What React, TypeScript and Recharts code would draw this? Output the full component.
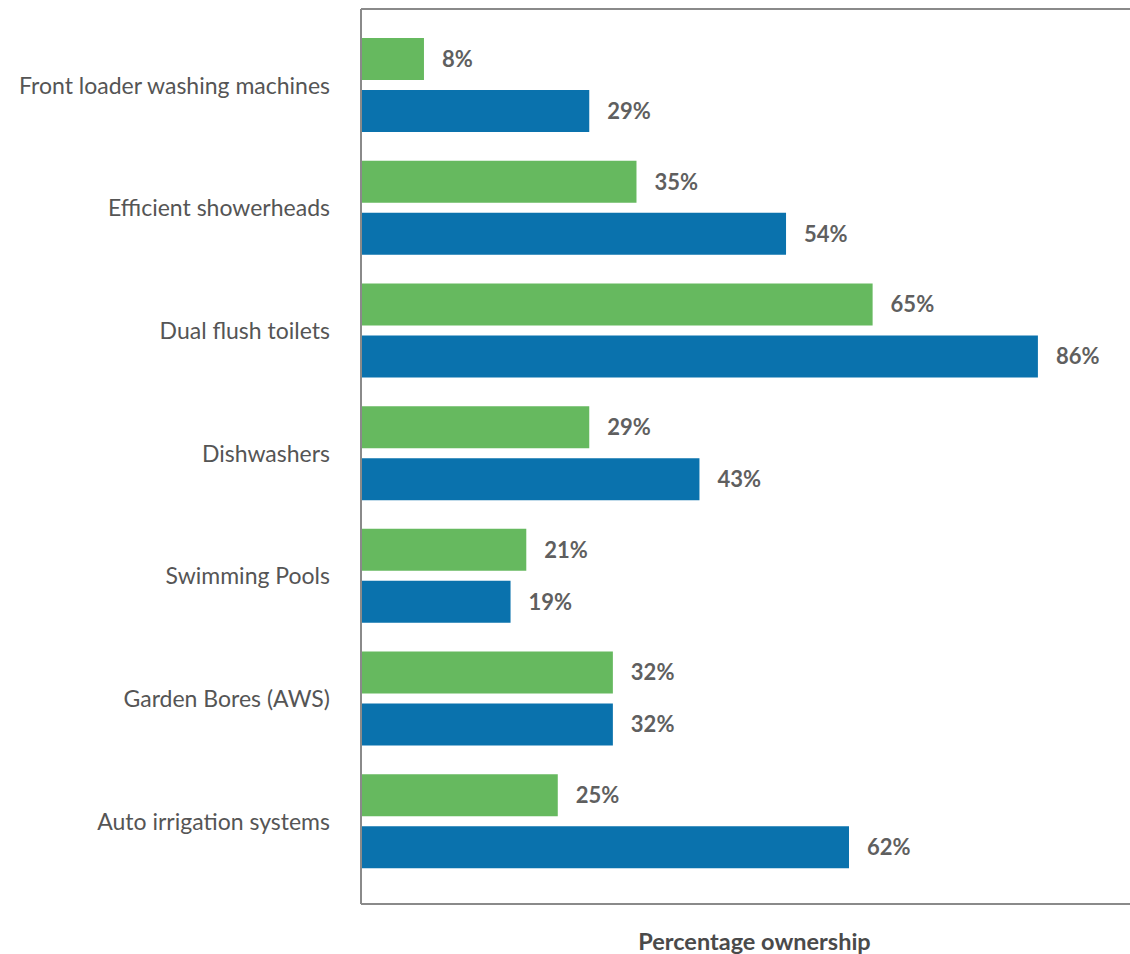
import React from "react";
import {
  BarChart,
  Bar,
  XAxis,
  YAxis,
  LabelList,
} from "recharts";

const categories = [
  "Front loader washing machines",
  "Efficient showerheads",
  "Dual flush toilets",
  "Dishwashers",
  "Swimming Pools",
  "Garden Bores (AWS)",
  "Auto irrigation systems",
];
const greenValues = [8, 35, 65, 29, 21, 32, 25];
const blueValues = [29, 54, 86, 43, 19, 32, 62];

const data = categories.map((name, i) => ({
  name,
  green: greenValues[i],
  blue: blueValues[i],
}));

const font = "Lato, 'Open Sans', sans-serif";
const axisStroke = "#8a8a8a";

export default function App() {
  return (
    <div
      style={{
        position: "absolute",
        left: 0,
        top: 0,
        width: 1130,
        height: 954,
        overflow: "hidden",
        fontFamily: font,
      }}
    >
      <BarChart
        width={1130}
        height={954}
        data={data}
        layout="vertical"
        margin={{ top: 8, right: 0, left: 0, bottom: 0 }}
        barSize={42}
        barGap={10}
      >
        <XAxis
          type="number"
          domain={[0, 97.7]}
          allowDataOverflow
          tick={false}
          tickLine={false}
          axisLine={{ stroke: axisStroke, strokeWidth: 2 }}
          height={50}
          label={{
            value: "Percentage ownership",
            position: "insideBottom",
            offset: 4,
            dx: 9,
            fill: "#4a4a4a",
            fontSize: 23.5,
            fontWeight: 700,
            fontFamily: font,
          }}
        />
        <XAxis
          xAxisId="top"
          orientation="top"
          type="number"
          domain={[0, 97.7]}
          tick={false}
          tickLine={false}
          height={1}
          axisLine={{ stroke: axisStroke, strokeWidth: 2 }}
        />
        <YAxis
          type="category"
          dataKey="name"
          width={361}
          tickLine={false}
          tickSize={0}
          tickMargin={31}
          padding={{ top: 15, bottom: 21 }}
          axisLine={{ stroke: axisStroke, strokeWidth: 2 }}
          tick={{ fill: "#555", fontSize: 23, fontFamily: font }}
          interval={0}
        />
        <Bar dataKey="green" fill="#66b95f" isAnimationActive={false}>
          <LabelList
            dataKey="green"
            position="right"
            offset={18}
            formatter={(v: number) => `${v}%`}
            fill="#5f5f5f"
            fontSize={22}
            fontWeight={700}
            fontFamily={font}
          />
        </Bar>
        <Bar dataKey="blue" fill="#0a72ad" isAnimationActive={false}>
          <LabelList
            dataKey="blue"
            position="right"
            offset={18}
            formatter={(v: number) => `${v}%`}
            fill="#5f5f5f"
            fontSize={22}
            fontWeight={700}
            fontFamily={font}
          />
        </Bar>
      </BarChart>
    </div>
  );
}
